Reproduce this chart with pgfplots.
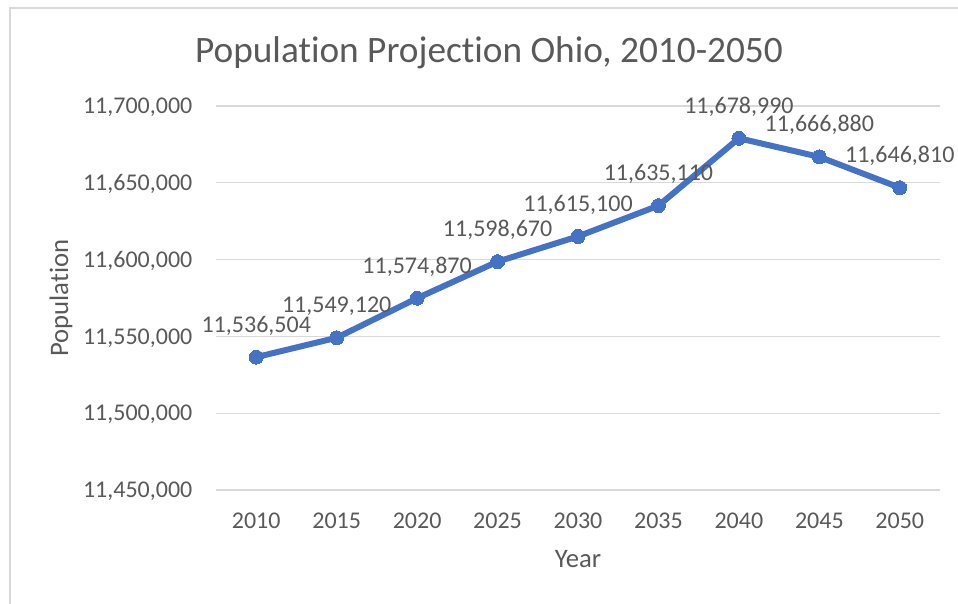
\documentclass[border=0pt]{standalone}
\usepackage{pgfplots}
\pgfplotsset{compat=1.18}
\usepackage{fontspec}
\setmainfont{Carlito}[Ligatures=CommonOff]
\definecolor{txt}{HTML}{595959}
\definecolor{gridc}{HTML}{D9D9D9}
\definecolor{serc}{HTML}{4472C4}
\begin{document}
\begin{tikzpicture}[x=1pt,y=1pt]
\useasboundingbox (0,0) rectangle (958,-604);
\draw[gridc, line width=1.5pt] (10,-604) -- (10,-8) -- (958,-8);
\begin{axis}[
  at={(216pt,-490pt)}, anchor=south west,
  scale only axis, width=724pt, height=384pt,
  xmin=-0.5, xmax=8.5, ymin=11450000, ymax=11700000,
  scaled y ticks=false,
  clip=false,
  axis line style={draw=none},
  major tick length=0pt,
  tick style={draw=none},
  xtick={0,1,2,3,4,5,6,7,8},
  xticklabels={2010,2015,2020,2025,2030,2035,2040,2045,2050},
  ytick={11450000,11500000,11550000,11600000,11650000,11700000},
  yticklabels={{11,450,000},{11,500,000},{11,550,000},{11,600,000},{11,650,000},{11,700,000}},
  ymajorgrids, xmajorgrids=false,
  major grid style={draw=gridc, line width=1.3pt},
  xticklabel style={anchor=base, yshift=-38pt, inner sep=0pt, font=\fontsize{24}{28}\selectfont, text=txt},
  yticklabel style={anchor=base east, xshift=-23.5pt, yshift=-7.6pt, inner sep=0pt, font=\fontsize{24}{28}\selectfont, text=txt},
  title={Population Projection Ohio, 2010-2050},
  every axis title/.style={at={(axis description cs:0.3771,1)}, anchor=base, yshift=43.5pt, inner sep=0pt, font=\fontsize{37.3}{42}\selectfont, text=txt},
  xlabel={Year},
  every axis x label/.style={at={(axis description cs:0.5,0)}, anchor=base, yshift=-77.3pt, inner sep=0pt, font=\fontsize{26.7}{30}\selectfont, text=txt},
  ylabel={Population},
  every axis y label/.style={at={(axis description cs:-0.2044,0.5)}, anchor=base, rotate=90, inner sep=0pt, font=\fontsize{26.7}{30}\selectfont, text=txt},
]
\addplot[serc, line width=6pt, line join=round, mark=*, mark size=7pt,
  mark options={fill=serc, draw=serc, line width=0pt},
  point meta=explicit symbolic,
  nodes near coords,
  every node near coord/.append style={anchor=base, yshift=25pt, inner sep=0pt, font=\fontsize{24}{28}\selectfont, text=txt}]
  table[x=x, y=y, meta=lab] {
x y lab
0 11536504 11,536,504
1 11549120 11,549,120
2 11574870 11,574,870
3 11598670 11,598,670
4 11615100 11,615,100
5 11635110 11,635,110
6 11678990 11,678,990
7 11666880 11,666,880
8 11646810 11,646,810
};
\end{axis}
\end{tikzpicture}
\end{document}
